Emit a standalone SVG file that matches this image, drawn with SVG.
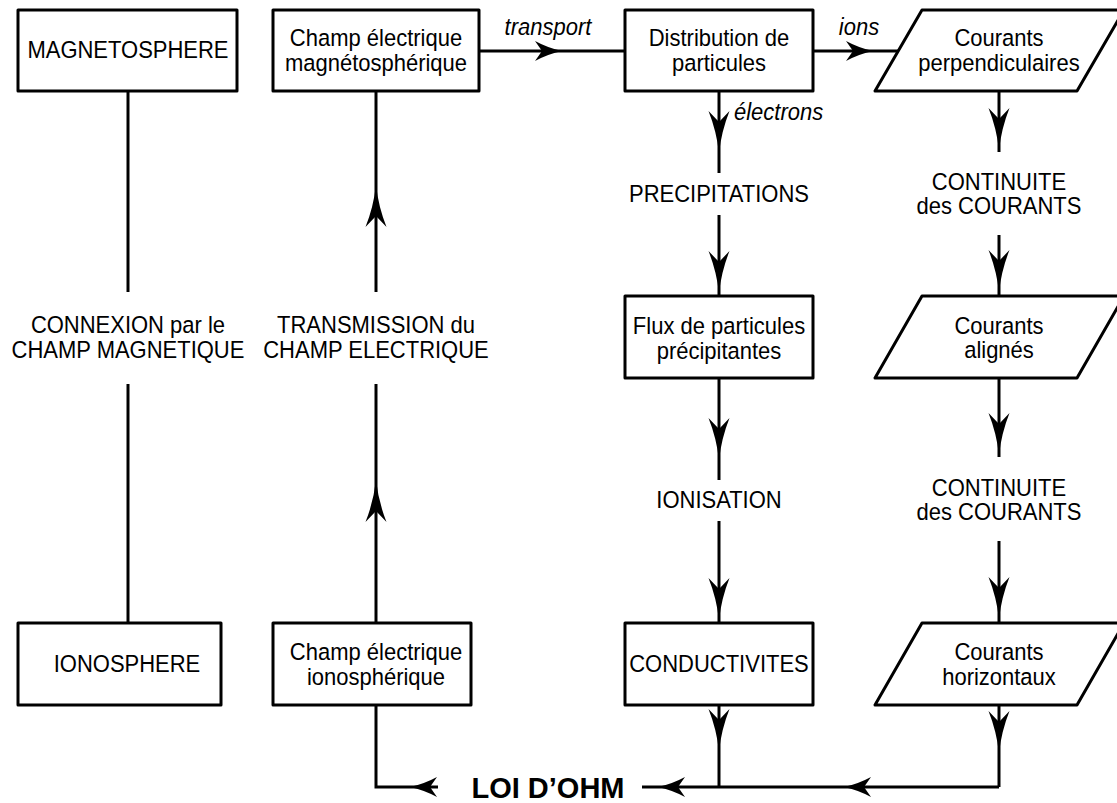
<svg xmlns="http://www.w3.org/2000/svg" xmlns:xlink="http://www.w3.org/1999/xlink" width="1117" height="803" viewBox="0 0 1117 803">
<style>
.box{fill:#fff;stroke:#000;stroke-width:3;stroke-linejoin:round}
.ln{fill:none;stroke:#000;stroke-width:3}
.t{font-family:"Liberation Sans",Arial,Helvetica,sans-serif;font-size:22px;text-anchor:middle;fill:#000}
.it{font-family:"Liberation Sans",Arial,Helvetica,sans-serif;font-size:22px;font-style:italic;fill:#000}
.big{font-family:"Liberation Sans",Arial,Helvetica,sans-serif;font-size:29px;font-weight:bold;text-anchor:middle;fill:#000}
</style>
<defs>
<path id="ad" d="M0,0 Q-2.5,-22 -10.5,-42 L0,-31 L10.5,-42 Q2.5,-22 0,0 Z" fill="#000"/>
<path id="au" d="M0,0 Q-2.5,22 -10.5,42 L0,31 L10.5,42 Q2.5,22 0,0 Z" fill="#000"/>
<path id="al" d="M0,0 Q14,-3 27,-10 L20,0 L27,10 Q14,3 0,0 Z" fill="#000"/>
<path id="ar" d="M0,0 Q-14,-3 -27,-10 L-20,0 L-27,10 Q-14,3 0,0 Z" fill="#000"/>
</defs>
<rect width="1117" height="803" fill="#fff"/>

<g id="connectors">
<line class="ln" x1="128" y1="91" x2="128" y2="292"/>
<line class="ln" x1="128" y1="384" x2="128" y2="623"/>
<line class="ln" x1="376" y1="91" x2="376" y2="292"/>
<line class="ln" x1="376" y1="384" x2="376" y2="623"/>
<use href="#au" x="376" y="185"/>
<use href="#au" x="376" y="480"/>
<line class="ln" x1="479" y1="51" x2="625" y2="51"/>
<use href="#ar" x="562" y="51"/>
<line class="ln" x1="813" y1="51" x2="898" y2="51"/>
<use href="#ar" x="873" y="51"/>
<line class="ln" x1="719" y1="91" x2="719" y2="173"/>
<use href="#ad" x="719" y="153"/>
<line class="ln" x1="719" y1="215" x2="719" y2="296"/>
<use href="#ad" x="719" y="293"/>
<line class="ln" x1="719" y1="378" x2="719" y2="480"/>
<use href="#ad" x="719" y="460"/>
<line class="ln" x1="719" y1="521" x2="719" y2="623"/>
<use href="#ad" x="719" y="620"/>
<line class="ln" x1="719" y1="705" x2="719" y2="787"/>
<use href="#ad" x="719" y="751"/>
<line class="ln" x1="999" y1="91" x2="999" y2="152"/>
<use href="#ad" x="999" y="150"/>
<line class="ln" x1="999" y1="235" x2="999" y2="296"/>
<use href="#ad" x="999" y="292"/>
<line class="ln" x1="999" y1="378" x2="999" y2="457"/>
<use href="#ad" x="999" y="455"/>
<line class="ln" x1="999" y1="541" x2="999" y2="623"/>
<use href="#ad" x="999" y="619"/>
<line class="ln" x1="999" y1="705" x2="999" y2="787"/>
<use href="#ad" x="999" y="753"/>
<polyline class="ln" points="999,787 642,787"/>
<use href="#al" x="844" y="787"/>
<use href="#al" x="658" y="787"/>
<polyline class="ln" points="438,787 376,787 376,705"/>
<use href="#al" x="410" y="787"/>
</g>

<g id="magnetosphere">
<rect class="box" x="18" y="10" width="219" height="81"/>
<text class="t" x="128" y="58" transform="matrix(1 0 0 1.08 0 -4.64)">MAGNETOSPHERE</text>
</g>
<g id="connexion">
<text class="t" x="128" y="333" transform="matrix(1 0 0 1.08 0 -26.64)">CONNEXION par le</text>
<text class="t" x="128" y="358" transform="matrix(1 0 0 1.08 0 -28.64)">CHAMP MAGNETIQUE</text>
</g>
<g id="ionosphere">
<rect class="box" x="18" y="623" width="203" height="82"/>
<text class="t" x="127" y="672" transform="matrix(1 0 0 1.08 0 -53.76)">IONOSPHERE</text>
</g>

<g id="champ-magneto">
<rect class="box" x="273" y="10" width="206" height="81"/>
<text class="t" x="376" y="46" transform="matrix(1 0 0 1.08 0 -3.68)">Champ électrique</text>
<text class="t" x="376" y="71" transform="matrix(1 0 0 1.08 0 -5.68)">magnétosphérique</text>
</g>
<g id="transmission">
<text class="t" x="376" y="333" transform="matrix(1 0 0 1.08 0 -26.64)">TRANSMISSION du</text>
<text class="t" x="376" y="358" transform="matrix(1 0 0 1.08 0 -28.64)">CHAMP ELECTRIQUE</text>
</g>
<g id="champ-iono">
<rect class="box" x="273" y="623" width="198" height="82"/>
<text class="t" x="376" y="660" transform="matrix(1 0 0 1.08 0 -52.8)">Champ électrique</text>
<text class="t" x="376" y="685" transform="matrix(1 0 0 1.08 0 -54.8)">ionosphérique</text>
</g>

<g id="label-transport"><text class="it" x="548" y="35" text-anchor="middle" transform="matrix(1 0 0 1.08 0 -2.8)">transport</text></g>
<g id="label-ions"><text class="it" x="859" y="35" text-anchor="middle" transform="matrix(1 0 0 1.08 0 -2.8)">ions</text></g>
<g id="label-electrons"><text class="it" x="734" y="120" transform="matrix(1 0 0 1.08 0 -9.6)">électrons</text></g>

<g id="distribution">
<rect class="box" x="625" y="10" width="188" height="81"/>
<text class="t" x="719" y="46" transform="matrix(1 0 0 1.08 0 -3.68)">Distribution de</text>
<text class="t" x="719" y="71" transform="matrix(1 0 0 1.08 0 -5.68)">particules</text>
</g>
<g id="precipitations"><text class="t" x="719" y="202" transform="matrix(1 0 0 1.08 0 -16.16)">PRECIPITATIONS</text></g>
<g id="flux">
<rect class="box" x="625" y="296" width="188" height="82"/>
<text class="t" x="719" y="334" transform="matrix(1 0 0 1.08 0 -26.72)">Flux de particules</text>
<text class="t" x="719" y="359" transform="matrix(1 0 0 1.08 0 -28.72)">précipitantes</text>
</g>
<g id="ionisation"><text class="t" x="719" y="508" transform="matrix(1 0 0 1.08 0 -40.64)">IONISATION</text></g>
<g id="conductivites">
<rect class="box" x="625" y="623" width="188" height="82"/>
<text class="t" x="719" y="672" transform="matrix(1 0 0 1.08 0 -53.76)">CONDUCTIVITES</text>
</g>

<g id="perpendiculaires">
<polygon class="box" points="922,10 1124,10 1077,91 875,91"/>
<text class="t" x="999" y="46" transform="matrix(1 0 0 1.08 0 -3.68)">Courants</text>
<text class="t" x="999" y="71" transform="matrix(1 0 0 1.08 0 -5.68)">perpendiculaires</text>
</g>
<g id="continuite1">
<text class="t" x="999" y="190" transform="matrix(1 0 0 1.08 0 -15.2)">CONTINUITE</text>
<text class="t" x="999" y="214" transform="matrix(1 0 0 1.08 0 -17.12)">des COURANTS</text>
</g>
<g id="alignes">
<polygon class="box" points="922,296 1124,296 1077,378 875,378"/>
<text class="t" x="999" y="334" transform="matrix(1 0 0 1.08 0 -26.72)">Courants</text>
<text class="t" x="999" y="358" transform="matrix(1 0 0 1.08 0 -28.64)">alignés</text>
</g>
<g id="continuite2">
<text class="t" x="999" y="496" transform="matrix(1 0 0 1.08 0 -39.68)">CONTINUITE</text>
<text class="t" x="999" y="520" transform="matrix(1 0 0 1.08 0 -41.6)">des COURANTS</text>
</g>
<g id="horizontaux">
<polygon class="box" points="922,623 1124,623 1077,705 875,705"/>
<text class="t" x="999" y="660" transform="matrix(1 0 0 1.08 0 -52.8)">Courants</text>
<text class="t" x="999" y="685" transform="matrix(1 0 0 1.08 0 -54.8)">horizontaux</text>
</g>

<g id="loi-ohm"><text class="big" x="548" y="798">LOI D’OHM</text></g>
</svg>
